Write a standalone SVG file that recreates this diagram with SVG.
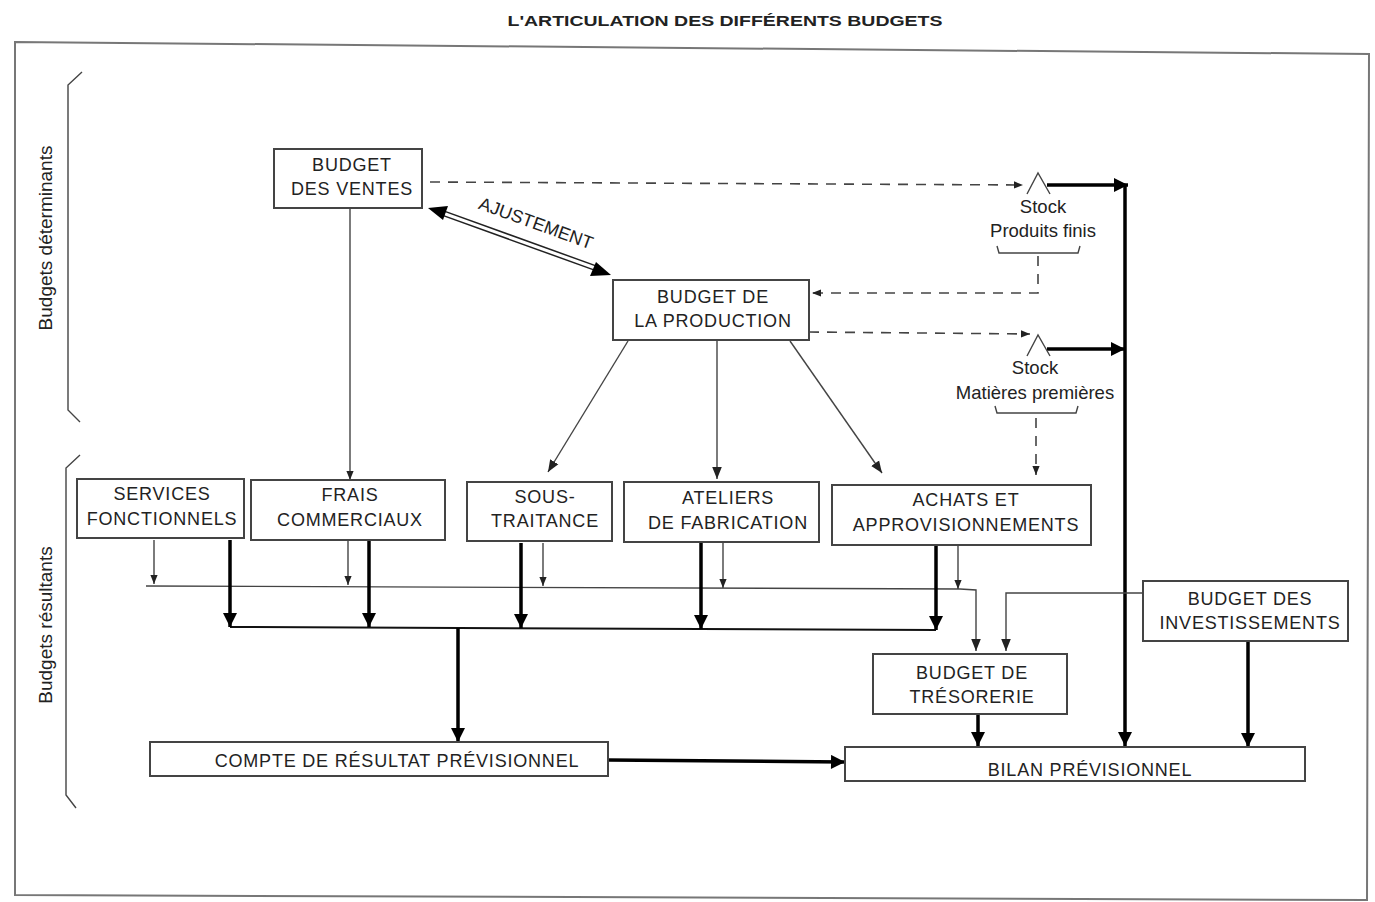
<svg xmlns="http://www.w3.org/2000/svg" width="1375" height="902" viewBox="0 0 1375 902">
<defs>
<style>
text{font-family:"Liberation Sans",Arial,sans-serif;fill:#222;}
.t{font-size:18px;text-anchor:middle;letter-spacing:0.8px;}
.s{font-size:18.5px;text-anchor:middle;}
.box{fill:#fff;stroke:#444;stroke-width:2;}
.thin{fill:none;stroke:#444;stroke-width:1.4;}
.dash{fill:none;stroke:#444;stroke-width:1.6;stroke-dasharray:10,8;}
.thick{fill:none;stroke:#000;stroke-width:3.5;}
.med{fill:none;stroke:#111;stroke-width:2;}
</style>
<marker id="a" viewBox="0 0 10 10" refX="10" refY="5" markerWidth="9" markerHeight="9" markerUnits="userSpaceOnUse" orient="auto"><path d="M0,1 L10,5 L0,9 Z" fill="#222"/></marker>
<marker id="ab" viewBox="0 0 10 10" refX="10" refY="5" markerWidth="20" markerHeight="14" markerUnits="userSpaceOnUse" orient="auto"><path d="M0,0 L10,5 L0,10 Z" fill="#000"/></marker>
<marker id="am" viewBox="0 0 10 10" refX="10" refY="5" markerWidth="12" markerHeight="12" markerUnits="userSpaceOnUse" orient="auto"><path d="M0,1 L10,5 L0,9 Z" fill="#222"/></marker>
</defs>
<rect width="1375" height="902" fill="#fff"/>
<text x="725" y="26" font-size="15" font-weight="bold" text-anchor="middle" textLength="435" lengthAdjust="spacingAndGlyphs">L'ARTICULATION DES DIFFÉRENTS BUDGETS</text>
<path d="M15,42 L1369,54 L1367,900 L15,895 Z" fill="none" stroke="#777" stroke-width="2"/>
<g id="braces" class="thin">
<path d="M82,72 L68,85 L68,410 L80,422"/>
<path d="M80,455 L66,468 L66,795 L76,808"/>
</g>
<text transform="translate(52,238) rotate(-90)" font-size="19" text-anchor="middle">Budgets déterminants</text>
<text transform="translate(52,625) rotate(-90)" font-size="19" text-anchor="middle">Budgets résultants</text>

<g id="connectors">
<path class="dash" d="M430,182 L1023,185" marker-end="url(#a)"/>
<path class="dash" d="M1038,256 L1038,293 L812,293" marker-end="url(#a)"/>
<path class="dash" d="M809,332 L1030,334" marker-end="url(#a)"/>
<path class="dash" d="M1036,418 L1036,475" marker-end="url(#a)"/>
<path class="thick" d="M1047,185 L1128,185" marker-end="url(#ab)"/>
<path class="thick" d="M1047,349 L1125,349" marker-end="url(#ab)"/>
<path class="thick" d="M1125,185 L1125,746" marker-end="url(#ab)"/>
<g>
<line x1="440" y1="212" x2="598" y2="269" stroke="#222" stroke-width="6"/>
<line x1="440" y1="212" x2="598" y2="269" stroke="#fff" stroke-width="3"/>
<path d="M428,208 L448,206 L443,220 Z" fill="#000"/>
<path d="M611,275 L590,276 L596,262 Z" fill="#000"/>
</g>
<text transform="translate(534,229) rotate(20)" font-size="18" text-anchor="middle">AJUSTEMENT</text>
<path class="thin" d="M350,208 L350,480" marker-end="url(#a)"/>
<path class="thin" d="M628,341 L548,472" marker-end="url(#am)"/>
<path class="thin" d="M717,341 L717,479" marker-end="url(#am)"/>
<path class="thin" d="M790,341 L882,473" marker-end="url(#am)"/>
<path class="thin" d="M146,586 L960,589 L976,590 L976,651" marker-end="url(#am)"/>
<path class="thin" d="M154,540 L154,584" marker-end="url(#a)"/>
<path class="thin" d="M348,541 L348,585" marker-end="url(#a)"/>
<path class="thin" d="M543,543 L543,586" marker-end="url(#a)"/>
<path class="thin" d="M723,543 L723,588" marker-end="url(#a)"/>
<path class="thin" d="M958,546 L958,589" marker-end="url(#a)"/>
<path class="thin" d="M1143,593 L1006,593 L1006,651" marker-end="url(#am)"/>
<path class="med" d="M230,627 L936,630"/>
<path class="thick" d="M230,540 L230,627" marker-end="url(#ab)"/>
<path class="thick" d="M369,541 L369,627" marker-end="url(#ab)"/>
<path class="thick" d="M521,543 L521,628" marker-end="url(#ab)"/>
<path class="thick" d="M701,543 L701,629" marker-end="url(#ab)"/>
<path class="thick" d="M936,546 L936,630" marker-end="url(#ab)"/>
<path class="thick" d="M458,628 L458,742" marker-end="url(#ab)"/>
<path class="thick" d="M978,715 L978,746" marker-end="url(#ab)"/>
<path class="thick" d="M1248,641 L1248,747" marker-end="url(#ab)"/>
<path class="thick" d="M608,760 L845,762" marker-end="url(#ab)"/>
</g>

<g id="ventes"><rect class="box" x="274" y="149" width="148" height="59"/><text class="t" x="352" y="171">BUDGET</text><text class="t" x="352" y="195">DES VENTES</text></g>
<g id="production"><rect class="box" x="613" y="280" width="196" height="60"/><text class="t" x="713" y="303">BUDGET DE</text><text class="t" x="713" y="327">LA PRODUCTION</text></g>
<g id="stock-pf">
<path class="thin" d="M1027,194 L1038,173 L1050,194"/>
<text class="s" x="1043" y="213">Stock</text><text class="s" x="1043" y="237">Produits finis</text>
<path class="thin" d="M997,246 L999,253 L1078,253 L1080,246"/>
</g>
<g id="stock-mp">
<path class="thin" d="M1027,356 L1038,335 L1050,356"/>
<text class="s" x="1035" y="374">Stock</text><text class="s" x="1035" y="399">Matières premières</text>
<path class="thin" d="M995,406 L997,413 L1076,413 L1078,406"/>
</g>
<g id="services"><rect class="box" x="77" y="479" width="167" height="59"/><text class="t" x="162" y="500">SERVICES</text><text class="t" x="162" y="525">FONCTIONNELS</text></g>
<g id="frais"><rect class="box" x="251" y="480" width="194" height="60"/><text class="t" x="350" y="501">FRAIS</text><text class="t" x="350" y="526">COMMERCIAUX</text></g>
<g id="sous"><rect class="box" x="467" y="482" width="145" height="59"/><text class="t" x="545" y="503">SOUS-</text><text class="t" x="545" y="527">TRAITANCE</text></g>
<g id="ateliers"><rect class="box" x="624" y="482" width="195" height="60"/><text class="t" x="728" y="504">ATELIERS</text><text class="t" x="728" y="529">DE FABRICATION</text></g>
<g id="achats"><rect class="box" x="832" y="485" width="259" height="60"/><text class="t" x="966" y="506">ACHATS ET</text><text class="t" x="966" y="531">APPROVISIONNEMENTS</text></g>
<g id="investissements"><rect class="box" x="1143" y="581" width="205" height="60"/><text class="t" x="1250" y="605">BUDGET DES</text><text class="t" x="1250" y="629">INVESTISSEMENTS</text></g>
<g id="tresorerie"><rect class="box" x="873" y="654" width="194" height="60"/><text class="t" x="972" y="679">BUDGET DE</text><text class="t" x="972" y="703">TRÉSORERIE</text></g>
<g id="compte"><rect class="box" x="150" y="742" width="458" height="34"/><text class="t" x="397" y="767">COMPTE DE RÉSULTAT PRÉVISIONNEL</text></g>
<g id="bilan"><rect class="box" x="845" y="747" width="460" height="34"/><text class="t" x="1090" y="776">BILAN PRÉVISIONNEL</text></g>
</svg>
